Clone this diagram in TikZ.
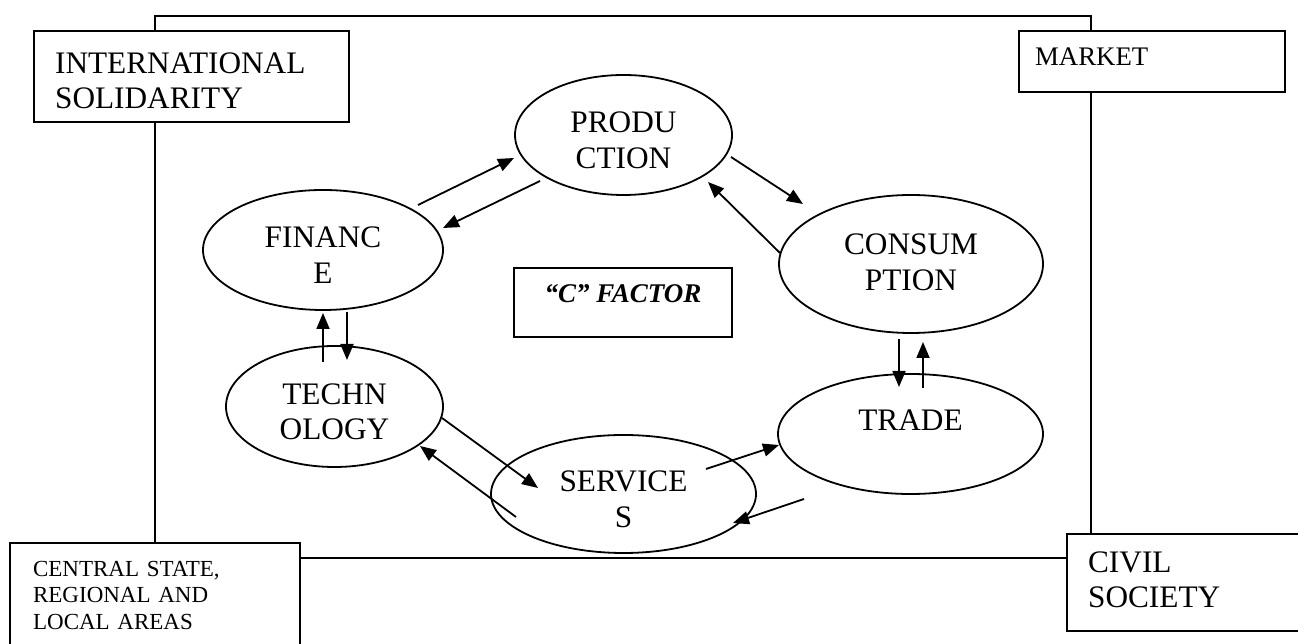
\documentclass[tikz,border=0pt]{standalone}
\usepackage{fontspec}
\setmainfont{Liberation Serif}
\usetikzlibrary{arrows.meta,shapes.geometric,calc}
\tikzset{
  sector/.style={ellipse, draw, line width=1.8pt, inner sep=0pt, align=center,
    font=\fontsize{31.3}{35.5}\selectfont, text height=67pt, text depth=0pt},
  actor/.style={draw, line width=2.2pt, fill=white, anchor=north west, inner ysep=0pt, align=left},
  core/.style={draw, line width=2.2pt, minimum width=218pt, minimum height=69pt,
    font=\fontsize{27}{31}\selectfont\bfseries\itshape, text height=20pt, text depth=20pt},
  arr/.style={-{Triangle[length=16pt,width=13pt]}, line width=1.8pt},
}
\begin{document}
\begin{tikzpicture}[x=1pt,y=1pt]
  \useasboundingbox (0,0) rectangle (1298,644);
  \clip (0,0) rectangle (1298,644);
  % outer frame
  \draw[line width=2.2pt] (155,86) rectangle (1091,628);
  % corner boxes
  \node[actor, minimum width=315pt, minimum height=91pt, inner xsep=21pt, text width=273pt,
    font=\fontsize{31.3}{35.5}\selectfont, text height=22pt, text depth=29pt]
    (intl) at (33,614) {INTERNATIONAL\\SOLIDARITY};
  \node[actor, minimum width=266pt, minimum height=61pt, inner xsep=16pt, text width=234pt,
    font=\fontsize{26.8}{31}\selectfont, text height=22pt, text depth=15pt]
    (mkt) at (1018,614) {MARKET};
  \node[actor, minimum width=290pt, minimum height=112pt, inner xsep=23pt, text width=244pt,
    font=\fontsize{23}{26.5}\selectfont, text height=20pt, text depth=66pt]
    (state) at (9,102) {CENTRAL STATE,\\REGIONAL AND\\LOCAL AREAS};
  \node[actor, minimum width=240pt, minimum height=97pt, inner xsep=21pt, text width=198pt,
    font=\fontsize{31.3}{35.5}\selectfont, text height=20pt, text depth=41pt]
    (civil) at (1066,111) {CIVIL\\SOCIETY};
  % sectors of the cycle
  \node[sector, minimum width=217pt, minimum height=120pt] (prod) at (623.5,509) {PRODU\\CTION};
  \node[sector, minimum width=240pt, minimum height=120pt] (fin) at (323,394) {FINANC\\E};
  \node[sector, minimum width=264pt, minimum height=138pt, text height=53pt] (cons) at (911,380) {CONSUM\\PTION};
  \node[sector, minimum width=217pt, minimum height=121pt] (tech) at (334.5,237.5) {TECHN\\OLOGY};
  \node[sector, minimum width=265pt, minimum height=118pt] (serv) at (623.5,150) {SERVICE\\S};
  \node[sector, minimum width=265pt, minimum height=120pt, text height=20pt, text depth=26pt] (trade) at (910.5,210) {TRADE};
  \node[core] (cfac) at (623,341.5) {“C” FACTOR};
  % flows
  \draw[arr] ($(fin.center)+(95,45)$) -- ($(prod.center)+(-109.5,-23)$);
  \draw[arr] ($(prod.center)+(-83.5,-46)$) -- ($(fin.center)+(120,22)$);
  \draw[arr] ($(prod.center)+(107.5,-22)$) -- ($(cons.center)+(-108,60)$);
  \draw[arr] ($(cons.center)+(-131,11)$) -- ($(prod.center)+(84.5,-47)$);
  \draw[arr] ($(fin.center)+(24,-62)$) -- ($(tech.center)+(12.5,46.5)$);
  \draw[arr] ($(tech.center)+(-11.5,44.5)$) -- ($(fin.center)+(0,-63)$);
  \draw[arr] ($(cons.center)+(-12,-75)$) -- ($(trade.center)+(-11.5,47)$);
  \draw[arr] ($(trade.center)+(12.5,46)$) -- ($(cons.center)+(12,-78)$);
  \draw[arr] ($(tech.center)+(107.5,-11.5)$) -- ($(serv.center)+(-85.5,6)$);
  \draw[arr] ($(serv.center)+(-107.5,-23)$) -- ($(tech.center)+(85.5,-39.5)$);
  \draw[arr] ($(serv.center)+(82.5,25)$) -- ($(trade.center)+(-131.5,-11)$);
  \draw[arr] ($(trade.center)+(-106.5,-65)$) -- ($(serv.center)+(109.5,-29)$);
\end{tikzpicture}
\end{document}
